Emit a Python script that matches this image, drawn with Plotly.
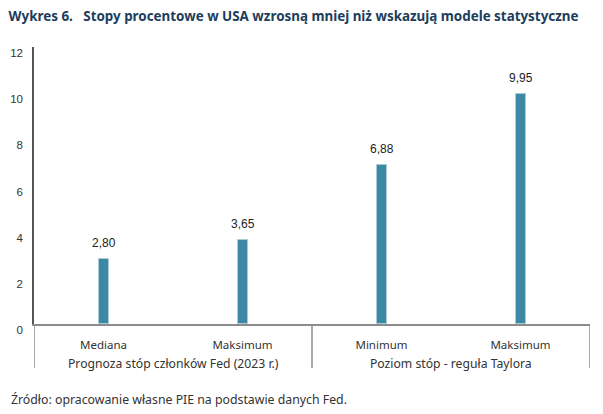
import plotly.graph_objects as go

# dane z wykresu
kategorie = ["Mediana", "Maksimum", "Minimum", "Maksimum"]
wartosci = [2.80, 3.65, 6.88, 9.95]
grupy = ["Prognoza stóp członków Fed (2023 r.)", "Poziom stóp - reguła Taylora"]
y_ticks = [0, 2, 4, 6, 8, 10, 12]

pozycje = list(range(len(kategorie)))

fig = go.Figure()
fig.add_trace(go.Bar(
    x=pozycje,
    y=wartosci,
    width=0.072,
    marker=dict(color="#3d89a5", line=dict(color="#a9cbd8", width=1)),
))

# etykiety wartości nad słupkami
for xp, v in zip(pozycje, wartosci):
    fig.add_annotation(x=xp, y=v, xref="x", yref="y", showarrow=False,
                       text=f"{v:.2f}".replace(".", ","), yanchor="middle", yshift=16,
                       font=dict(family="Liberation Sans, Arial", size=12, color="#222"))

# strona ma 8 px marginesu body, więc figura jest o 8 px mniejsza
fig.update_layout(
    width=595, height=406,
    margin=dict(l=26, r=13, t=39, b=90),
    paper_bgcolor="white", plot_bgcolor="white",
    showlegend=False,
    bargap=0,
    title=dict(
        text="<b>Wykres 6.   Stopy procentowe w USA wzrosną mniej niż wskazują modele statystyczne</b>",
        x=0.001, xanchor="left", y=1 - 8 / 406, yanchor="middle",
        font=dict(family="Noto Sans", size=13.4, color="#1d3d5c"),
    ),
)

fig.update_xaxes(
    range=[-0.5, 3.5], automargin=False,
    tickvals=pozycje, ticktext=kategorie,
    tickfont=dict(family="Noto Sans", size=11.5, color="#333"),
    ticks="", ticklabelstandoff=9,
    showline=True, linecolor="#8c8c8c", linewidth=1.5,
    showgrid=False, zeroline=False,
)
fig.update_yaxes(
    range=[0, 12], tickvals=y_ticks, automargin=False,
    tickfont=dict(family="Liberation Sans, Arial", size=11.5, color="#333"),
    ticks="", ticklabelshift=6, ticklabelstandoff=7,
    showline=True, linecolor="#555", linewidth=1.5,
    showgrid=False, zeroline=False,
)

# linie rozdzielające grupy
for xs in [-0.5, 1.5, 3.5]:
    fig.add_shape(type="line", xref="x", yref="paper", x0=xs, x1=xs,
                  y0=0, y1=-44 / 277, line=dict(color="#8c8c8c", width=1.5))

# podpisy grup
for i, g in enumerate(grupy):
    fig.add_annotation(x=2 * i + 0.5, xref="x", y=-39 / 277, yref="paper",
                       text=g, showarrow=False, yanchor="middle",
                       font=dict(family="Noto Sans", size=12.2, color="#333"))

fig.add_annotation(x=-25.5 / 556, xref="paper", xanchor="left", y=-75 / 277, yref="paper",
                   yanchor="middle",
                   text="Źródło: opracowanie własne PIE na podstawie danych Fed.",
                   showarrow=False,
                   font=dict(family="Noto Sans", size=12.3, color="#333"))

fig.write_html("out.html")
